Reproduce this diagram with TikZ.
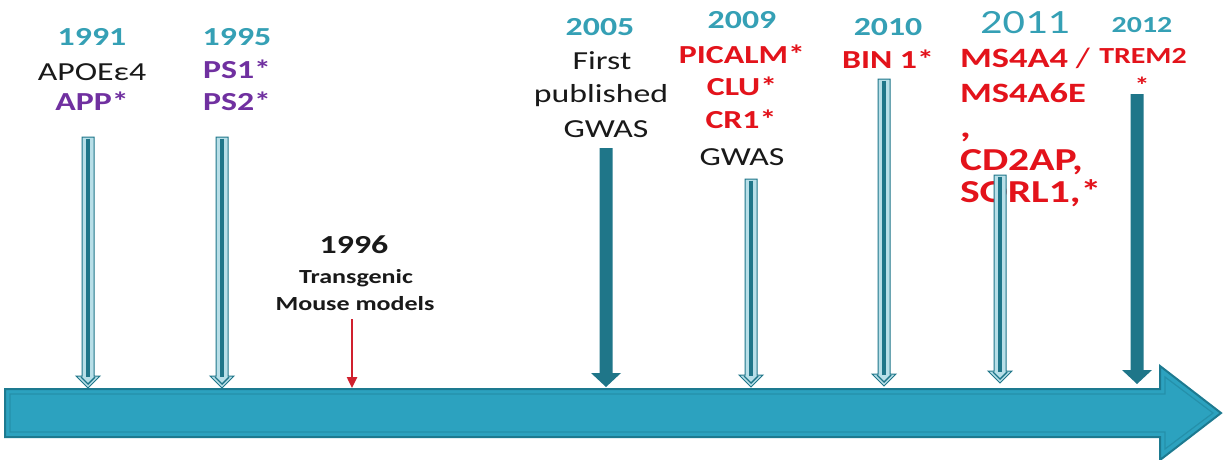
\documentclass[tikz,border=0pt]{standalone}
\usepackage{fontspec}
\setmainfont{Carlito}[FakeStretch=1.3]
\usetikzlibrary{calc,arrows.meta}
\definecolor{yearc}{HTML}{35A0B5}
\definecolor{purp}{HTML}{7030A0}
\definecolor{redc}{HTML}{E3131B}
\definecolor{arrdk}{HTML}{1F7689}
\definecolor{arrlt}{HTML}{B8DFE8}
\definecolor{barfill}{HTML}{2CA2BF}
\definecolor{barline}{HTML}{1D7A90}
\definecolor{barin}{HTML}{2590AA}
\definecolor{redarr}{HTML}{D0202E}
\newcommand{\fsz}[1]{\fontsize{#1}{#1}\selectfont}
\newcommand{\hollowarr}[2]{%
  \filldraw[draw=arrdk, fill=arrlt, line width=1pt] let \p1=(#1), \p2=(#2) in
    (\x1-6pt,\y1) -- (\x1+6pt,\y1) -- (\x1+6pt,\y2+12pt) -- (\x1+12pt,\y2+12pt)
    -- (\x1,\y2) -- (\x1-12pt,\y2+12pt) -- (\x1-6pt,\y2+12pt) -- cycle;
  \draw[arrdk, line width=4.5pt] let \p1=(#1), \p2=(#2) in
    (\x1,\y1-1.5pt) -- (\x1,\y2+11pt);
  \draw[arrdk, line width=1.4pt] let \p1=(#1), \p2=(#2) in
    (\x1-7pt,\y2+11pt) -- (\x1,\y2+4pt) -- (\x1+7pt,\y2+11pt);
}
\newcommand{\solidarr}[2]{%
  \fill[arrdk] let \p1=(#1), \p2=(#2) in
    (\x1-6.5pt,\y1) -- (\x1+6.5pt,\y1) -- (\x1+6.5pt,\y2+14pt) -- (\x1+15pt,\y2+14pt)
    -- (\x1,\y2) -- (\x1-15pt,\y2+14pt) -- (\x1-6.5pt,\y2+14pt) -- cycle;
}
\tikzset{
  lbl/.style={anchor=base, inner sep=0pt, outer sep=0pt},
  yr/.style={lbl, text=yearc, font=\bfseries\fsz{26}},
  blk/.style={lbl, text=black!90, font=\fsz{26}},
  pur/.style={lbl, text=purp, font=\bfseries\fsz{26}},
  rd/.style={lbl, text=redc, font=\bfseries\fsz{26}},
  rdl/.style={lbl, anchor=base west, text=redc, font=\bfseries\fsz{28}},
  rdb/.style={lbl, anchor=base west, text=redc, font=\bfseries\fsz{32}},
  b96/.style={lbl, text=black!90, font=\bfseries\fsz{26}},
  tg/.style={lbl, text=black!90, font=\bfseries\fsz{20}},
}
\begin{document}
\begin{tikzpicture}[x=1pt,y=-1pt]
\useasboundingbox (0,0) rectangle (1225,459);
\clip (0,0) rectangle (1225,459);
\fill[white] (0,0) rectangle (1225,459);

% timeline bar
\filldraw[fill=barfill, draw=barline, line width=2pt]
  (5,389) -- (1160,389) -- (1160,366) -- (1221,413) -- (1160,460) -- (1160,437) -- (5,437) -- cycle;
\draw[barin, line width=1.2pt]
  (10,394) -- (1165,394) -- (1165,377) -- (1213,413) -- (1165,449) -- (1165,432) -- (10,432) -- cycle;

% labels
\node[yr] (y91) at (92,45) {1991};
\node[blk] (apoe) at (92,80) {APOEε4};
\node[pur] (app) at (92,110) {APP*};

\node[yr] (y95) at (237,45) {1995};
\node[pur] (ps1) at (237,78) {PS1*};
\node[pur] (ps2) at (237,110) {PS2*};

\node[b96] (y96) at (354,253) {1996};
\node[tg] (tg1) at (356,283) {Transgenic};
\node[tg] (tg2) at (355,310) {Mouse models};

\node[yr] (y05) at (600,35) {2005};
\node[blk] (first) at (602,69) {First};
\node[blk] (publ) at (601,102) {published};
\node[blk] (gw05) at (606,137) {GWAS};

\node[yr] (y09) at (742,28) {2009};
\node[rd] (pic) at (742,63) {PICALM*};
\node[rd] (clu) at (742,95) {CLU*};
\node[rd] (cr1) at (741,128) {CR1*};
\node[blk] (gw09) at (742,165) {GWAS};

\node[yr] (y10) at (888,35) {2010};
\node[rd] (bin) at (888,68) {BIN 1*};

\node[yr, font=\fsz{34}] (y11) at (1025,33) {2011};
\node[rdl] (ms44) at (960,67) {MS4A4};
\node[lbl, text=redc, font=\fsz{28}] (slash) at (1083,67) {/};
\node[rdl] (ms46) at (960,102) {MS4A6E};
\node[rdb] (comma) at (960,137) {,};
\node[rdb] (cd2) at (960,170) {CD2AP,};
\node[rdb] (sorl) at (960,202) {SORL1,*};

\node[yr, font=\bfseries\fsz{23}] (y12) at (1142,32) {2012};
\node[lbl, text=redc, font=\bfseries\fsz{23}] (trem) at (1143,63) {TREM2};
\node[lbl, text=redc, font=\bfseries\fsz{23}] (ast) at (1142,93) {*};

% arrow end points
\coordinate (a91t) at (88,137);  \coordinate (a91b) at (88,388);
\coordinate (a95t) at (222,137); \coordinate (a95b) at (222,388);
\coordinate (a96t) at (352,319); \coordinate (a96b) at (352,388);
\coordinate (a05t) at (606,148); \coordinate (a05b) at (606,387);
\coordinate (a09t) at (751,179); \coordinate (a09b) at (751,387);
\coordinate (a10t) at (884,79);  \coordinate (a10b) at (884,386);
\coordinate (a11t) at (1000,175); \coordinate (a11b) at (1000,383);
\coordinate (a12t) at (1137,94); \coordinate (a12b) at (1137,384);

\hollowarr{a91t}{a91b}
\hollowarr{a95t}{a95b}
\hollowarr{a09t}{a09b}
\hollowarr{a10t}{a10b}
\hollowarr{a11t}{a11b}
\solidarr{a05t}{a05b}
\solidarr{a12t}{a12b}
\draw[redarr, line width=2.4pt, -{Triangle[width=10pt,length=11pt]}] (a96t) -- (a96b);
\end{tikzpicture}
\end{document}
